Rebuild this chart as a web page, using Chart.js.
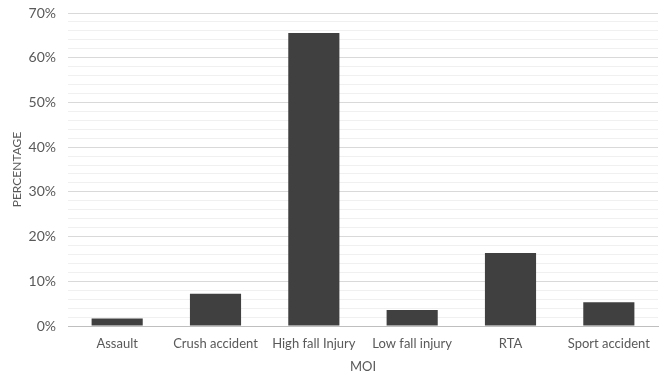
<!DOCTYPE html>
<html>
<head>
<meta charset="utf-8">
<script src="https://cdn.jsdelivr.net/npm/chart.js@4.4.1/dist/chart.umd.min.js"></script>
<style>
  html, body { margin: 0; padding: 0; background: #ffffff; }
  #wrap { width: 661px; height: 375px; position: relative; }
</style>
</head>
<body>
<div id="wrap"><canvas id="c" width="661" height="375"></canvas></div>
<script>
// Mechanism of injury (MOI) categories and their share of cases, in percent
const categories = ['Assault', 'Crush accident', 'High fall Injury', 'Low fall injury', 'RTA', 'Sport accident'];
const percentages = [1.7, 7.2, 65.5, 3.6, 16.3, 5.3];
const yTickLabels = ['0%', '10%', '20%', '30%', '40%', '50%', '60%', '70%'];

const FONT = 'Lato, "Open Sans", sans-serif';
const TEXT = '#595959';

new Chart(document.getElementById('c'), {
  type: 'bar',
  data: {
    labels: categories,
    datasets: [{
      data: percentages,
      backgroundColor: '#404040',
      borderColor: '#404040',
      borderWidth: 0,
      categoryPercentage: 1.0,
      barPercentage: 0.52
    }]
  },
  options: {
    responsive: false,
    animation: false,
    devicePixelRatio: 1,
    layout: { padding: { left: 0, right: 3, top: 13, bottom: 0 } },
    plugins: { legend: { display: false }, tooltip: { enabled: false } },
    scales: {
      x: {
        afterFit: (s) => { s.height = 49; },
        grid: { display: false, drawTicks: false },
        border: { display: true, color: '#bfbfbf', width: 1 },
        ticks: { color: TEXT, font: { family: FONT, size: 13 }, padding: 10, maxRotation: 0 },
        title: { display: true, text: 'MOI', color: TEXT, font: { family: FONT, size: 13 }, padding: { top: 4, bottom: 0 } }
      },
      y: {
        min: 0,
        max: 70,
        afterFit: (s) => { s.width = 68; s.paddingTop = 0; s.paddingBottom = 0; },
        afterBuildTicks: (axis) => {
          // major ticks every 10%, minor gridlines every 2%
          const t = [];
          for (let v = 0; v <= 70; v += 2) t.push({ value: v });
          axis.ticks = t;
        },
        grid: {
          drawTicks: false,
          color: (ctx) => {
            const v = ctx.tick ? ctx.tick.value : 0;
            if (v === 0) return '#bfbfbf';
            return v % 10 === 0 ? '#d9d9d9' : '#f0f0f0';
          },
          lineWidth: 1
        },
        border: { display: false },
        ticks: {
          color: TEXT,
          font: { family: FONT, size: 14 },
          padding: 12,
          autoSkip: false,
          callback: (v) => (v % 10 === 0 ? yTickLabels[v / 10] : '')
        },
        title: { display: true, text: 'PERCENTAGE', color: TEXT, font: { family: FONT, size: 12 }, padding: { top: 10, bottom: 4 } }
      }
    }
  }
});
</script>
</body>
</html>
